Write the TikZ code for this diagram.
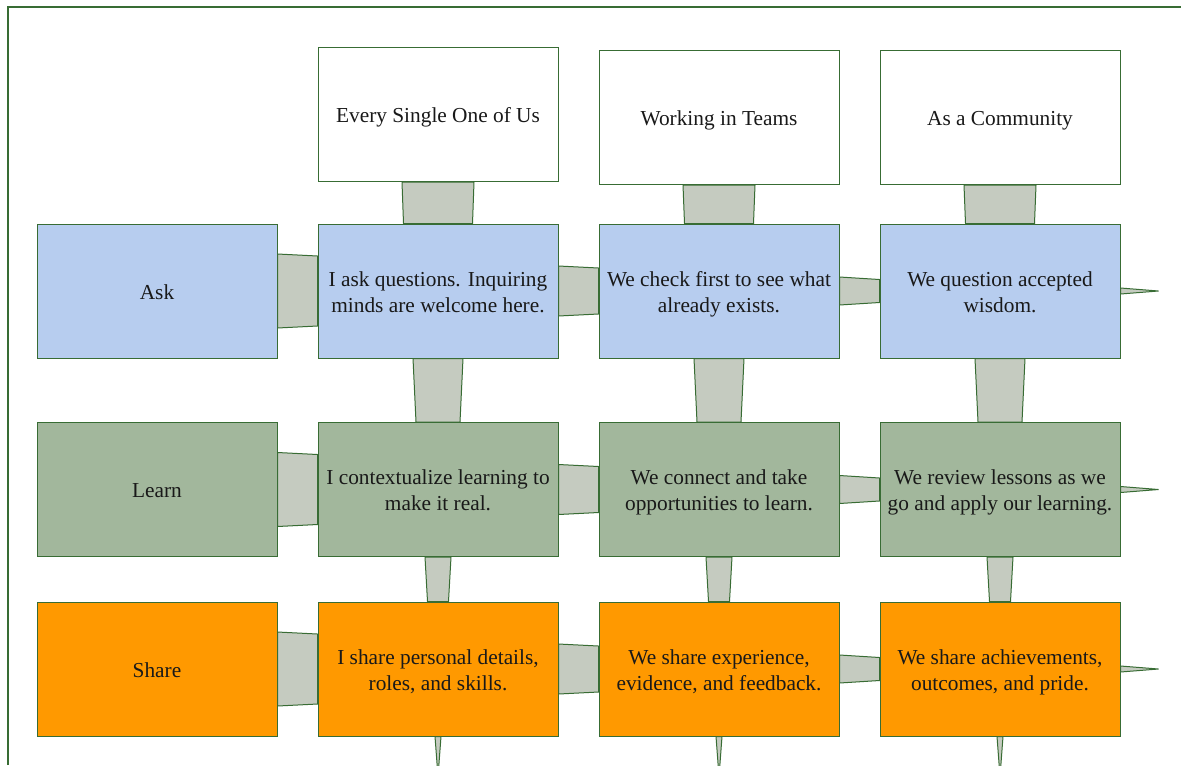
\documentclass[tikz,border=0pt]{standalone}
\usepackage{fontspec}
\setmainfont{Liberation Serif}
\usetikzlibrary{calc,backgrounds}

\definecolor{darkline}{RGB}{56,108,52}
\definecolor{askblue}{RGB}{183,205,239}
\definecolor{learngreen}{RGB}{162,183,156}
\definecolor{shareorange}{RGB}{255,153,0}
\definecolor{linkgray}{RGB}{197,203,192}

% centred lines, set a little low in the box
\newcommand{\celltext}[1]{\raisebox{-2.1pt}[\height][\depth]{\begin{tabular}{@{}c@{}}#1\end{tabular}}}

\begin{document}
\begin{tikzpicture}[
                x=0.75pt, y=-0.75pt,
                box/.style={draw=darkline, line width=0.75pt, minimum width=180pt, minimum height=100.5pt,
                    inner sep=0pt, text=black!90, font=\fontsize{16}{19.5}\selectfont},
                headcell/.style={fill=white},
                askcell/.style={fill=askblue},
                learncell/.style={fill=learngreen},
                sharecell/.style={fill=shareorange},
                link/.style={draw=darkline, fill=linkgray, line width=0.75pt},
                frame/.style={draw=darkline, line width=1.2pt}
            ]
            \useasboundingbox (0,0) rectangle (1181,765);
            \draw[frame] (8,765) -- (8,7) -- (1181,7);

            % Headers
            \node[box, headcell] (head1) at (438,114.5) {\celltext{Every Single One of Us}};
            \node[box, headcell] (head2) at (719,117.5) {\celltext{Working in Teams}};
            \node[box, headcell] (head3) at (1000,117.5) {\celltext{As a Community}};

            % Ask Row
            \node[box, askcell] (ask0) at (157,291) {\celltext{Ask}};
            \node[box, askcell] (ask1) at (438,291) {\celltext{I ask questions. Inquiring\\minds are welcome here.}};
            \node[box, askcell] (ask2) at (719,291) {\celltext{We check first to see what\\already exists.}};
            \node[box, askcell] (ask3) at (1000,291) {\celltext{We question accepted\\wisdom.}};

            % Learn Row
            \node[box, learncell] (learn0) at (157,489.5) {\celltext{Learn}};
            \node[box, learncell] (learn1) at (438,489.5) {\celltext{I contextualize learning to\\make it real.}};
            \node[box, learncell] (learn2) at (719,489.5) {\celltext{We connect and take\\opportunities to learn.}};
            \node[box, learncell] (learn3) at (1000,489.5) {\celltext{We review lessons as we\\go and apply our learning.}};

            % Share Row
            \node[box, sharecell] (share0) at (157,669) {\celltext{Share}};
            \node[box, sharecell] (share1) at (438,669) {\celltext{I share personal details,\\roles, and skills.}};
            \node[box, sharecell] (share2) at (719,669) {\celltext{We share experience,\\evidence, and feedback.}};
            \node[box, sharecell] (share3) at (1000,669) {\celltext{We share achievements,\\outcomes, and pride.}};

            \begin{scope}[on background layer]
                \fill[white] (0,0) rectangle (1181,765);

                % Links along the rows
                \foreach \r in {ask,learn,share} {
                    \foreach \a/\b/\wa/\wb in {0/1/37/35, 1/2/25/23, 2/3/14/11.5} {
                        \filldraw[link] ($(\r\a.east)+(0,-\wa)$) -- ($(\r\b.west)+(0,-\wb)$)
                            -- ($(\r\b.west)+(0,\wb)$) -- ($(\r\a.east)+(0,\wa)$) -- cycle;
                    }
                    \coordinate (\r tip) at ($(\r3.east)+(38,0)$);
                    \filldraw[link] ($(\r3.east)+(0,-3)$) -- (\r tip) -- ($(\r3.east)+(0,3)$) -- cycle;
                }

                % Links down the columns
                \foreach \c in {1,2,3} {
                    \foreach \a/\b/\wa/\wb in {head/ask/36/34.5, ask/learn/25/22, learn/share/13/10.5} {
                        \filldraw[link] ($(\a\c.south)+(-\wa,0)$) -- ($(\b\c.north)+(-\wb,0)$)
                            -- ($(\b\c.north)+(\wb,0)$) -- ($(\a\c.south)+(\wa,0)$) -- cycle;
                    }
                    \coordinate (tip\c) at ($(share\c.south)+(0,40)$);
                    \filldraw[link] ($(share\c.south)+(-3,0)$) -- (tip\c) -- ($(share\c.south)+(3,0)$) -- cycle;
                }
            \end{scope}
        \end{tikzpicture}
\end{document}
